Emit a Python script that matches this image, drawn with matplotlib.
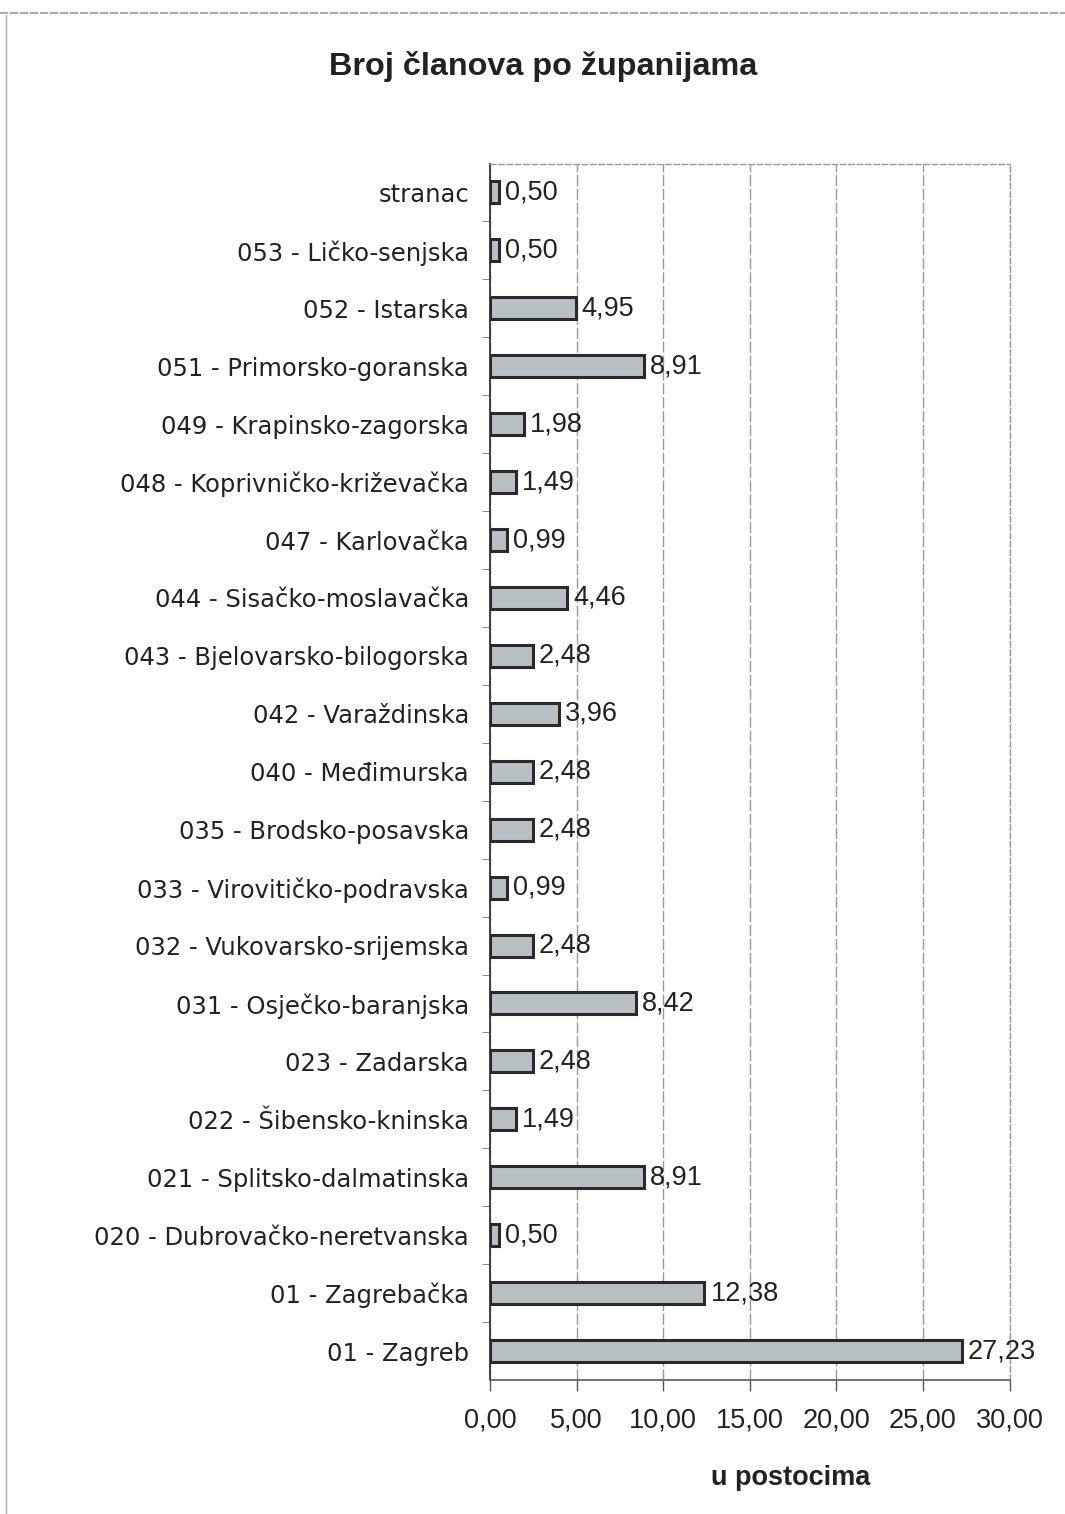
import matplotlib
matplotlib.use("Agg")
import matplotlib.pyplot as plt
from matplotlib.lines import Line2D

categories = [
    "stranac",
    "053 - Ličko-senjska",
    "052 - Istarska",
    "051 - Primorsko-goranska",
    "049 - Krapinsko-zagorska",
    "048 - Koprivničko-križevačka",
    "047 - Karlovačka",
    "044 - Sisačko-moslavačka",
    "043 - Bjelovarsko-bilogorska",
    "042 - Varaždinska",
    "040 - Međimurska",
    "035 - Brodsko-posavska",
    "033 - Virovitičko-podravska",
    "032 - Vukovarsko-srijemska",
    "031 - Osječko-baranjska",
    "023 - Zadarska",
    "022 - Šibensko-kninska",
    "021 - Splitsko-dalmatinska",
    "020 - Dubrovačko-neretvanska",
    "01 - Zagrebačka",
    "01 - Zagreb",
]
values = [0.50, 0.50, 4.95, 8.91, 1.98, 1.49, 0.99, 4.46, 2.48, 3.96, 2.48,
          2.48, 0.99, 2.48, 8.42, 2.48, 1.49, 8.91, 0.50, 12.38, 27.23]
xticks = [0, 5, 10, 15, 20, 25, 30]
xtick_labels = ["0,00", "5,00", "10,00", "15,00", "20,00", "25,00", "30,00"]
title = "Broj članova po županijama"
xlabel = "u postocima"

fig = plt.figure(figsize=(10.65, 15.14), dpi=100)
ax = fig.add_axes([0.460, 0.0885, 0.488, 0.8035])

pos = list(range(len(categories)))
ax.barh(pos, values, height=0.38, color="#b9c0c4", edgecolor="#2a2a2a",
        linewidth=2.2, zorder=3)
for p, v in zip(pos, values):
    ax.text(v + 0.35, p, f"{v:.2f}".replace(".", ","), va="center", ha="left",
            fontsize=19.5, family="Liberation Sans", color="#222222", zorder=4)

ax.set_ylim(len(categories) - 0.5, -0.5)
ax.set_xlim(0, 30)
ax.set_yticks(pos)
ax.set_yticklabels(categories, fontsize=17.5, family="DejaVu Sans", color="#222222")
ax.tick_params(axis="y", length=0, pad=15)
ax.set_yticks([p + 0.5 for p in pos[:-1]], minor=True)
ax.tick_params(axis="y", which="minor", length=6, color="#777777", direction="out")

ax.set_xticks(xticks)
ax.set_xticklabels(xtick_labels, fontsize=19.5, family="Liberation Sans", color="#222222")
ax.tick_params(axis="x", length=8, width=1, color="#555555", pad=12, direction="out")

ax.grid(axis="x", color="#999999", linestyle=(0, (8, 2)), linewidth=1.0, zorder=0)
ax.spines["left"].set_color("#333333")
ax.spines["left"].set_linewidth(1.3)
ax.spines["bottom"].set_color("#666666")
ax.spines["bottom"].set_linewidth(1.3)
for s in ("top", "right"):
    ax.spines[s].set_color("#9a9a9a")
    ax.spines[s].set_linestyle((0, (4, 2)))
    ax.spines[s].set_linewidth(1.0)

fig.text(0.51, 0.956, title, ha="center", va="center", fontsize=23.3,
         fontweight="bold", family="Liberation Sans", color="#222222")
fig.text(0.742, 0.024, xlabel, ha="center", va="center", fontsize=19.5,
         fontweight="bold", family="Liberation Sans", color="#222222")

fig.add_artist(Line2D([0.0, 1.0], [0.9915, 0.9915], transform=fig.transFigure,
                      color="#9a9a9a", linewidth=1.2, linestyle=(0, (5, 1))))
fig.add_artist(Line2D([0.006, 0.006], [0.99, 0.0], transform=fig.transFigure,
                      color="#aaaaaa", linewidth=1.0))

fig.savefig("out.png", dpi=100)
